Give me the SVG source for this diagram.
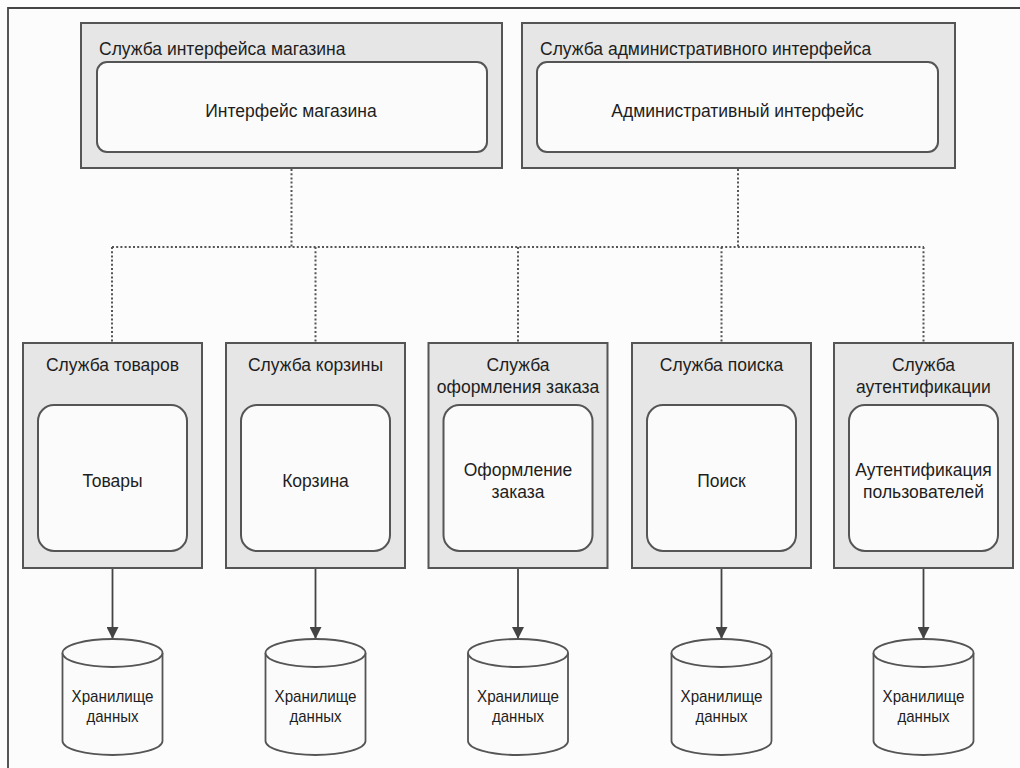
<svg xmlns="http://www.w3.org/2000/svg" width="1020" height="768" viewBox="0 0 1020 768">
<defs>
<style>
.svc{fill:#e6e6e6;stroke:#555;stroke-width:2}
.inner{fill:#fbfbfb;stroke:#555;stroke-width:2}
.t{font-family:"Liberation Sans",Arial,sans-serif;font-size:17.5px;fill:#1e1e1e}
.c{text-anchor:middle}
.ds{font-family:"Liberation Sans",Arial,sans-serif;font-size:17px;fill:#1e1e1e;text-anchor:middle}
.dot{fill:none;stroke:#555;stroke-width:2;stroke-dasharray:2 2.2}
.arr{fill:none;stroke:#444;stroke-width:1.8}
.cyl{fill:#fbfbfb;stroke:#555;stroke-width:1.8}
</style>
<marker id="ah" markerWidth="14" markerHeight="12" refX="13" refY="6.5" orient="auto" markerUnits="userSpaceOnUse" viewBox="0 0 14 13">
<path d="M0 0 L13 6.5 L0 13 Z" fill="#444"/>
</marker>
</defs>
<rect x="0" y="0" width="1020" height="768" fill="#fcfcfc"/>
<path d="M8 768 V8 H1020" fill="none" stroke="#444" stroke-width="1.8"/>

<g id="connectors">
<path class="dot" d="M291.5 169 V247 M738 169 V247 M112 247 H924 M112 247 V343 M315.5 247 V343 M518 247 V343 M721.5 247 V343 M923.5 247 V343"/>
<path class="arr" marker-end="url(#ah)" d="M112.5 569 V639"/>
<path class="arr" marker-end="url(#ah)" d="M315.5 569 V639"/>
<path class="arr" marker-end="url(#ah)" d="M518 569 V639"/>
<path class="arr" marker-end="url(#ah)" d="M721.5 569 V639"/>
<path class="arr" marker-end="url(#ah)" d="M923.5 569 V639"/>
</g>

<g id="storefront-service">
<rect class="svc" x="81" y="23" width="421" height="145"/>
<text class="t" x="99" y="55">Служба интерфейса магазина</text>
<rect class="inner" x="97" y="62" width="390" height="90" rx="10"/>
<text class="t c" x="291" y="117">Интерфейс магазина</text>
</g>

<g id="admin-service">
<rect class="svc" x="522" y="23" width="433" height="145"/>
<text class="t" x="540" y="55">Служба административного интерфейса</text>
<rect class="inner" x="537" y="62" width="401" height="90" rx="10"/>
<text class="t c" x="737.5" y="117">Административный интерфейс</text>
</g>

<g id="products-service">
<rect class="svc" x="23" y="343" width="179" height="225"/>
<text class="t c" x="112.5" y="371">Служба товаров</text>
<rect class="inner" x="38" y="405" width="149" height="146" rx="16"/>
<text class="t c" x="112.5" y="487">Товары</text>
</g>

<g id="cart-service">
<rect class="svc" x="226" y="343" width="179" height="225"/>
<text class="t c" x="315.5" y="371">Служба корзины</text>
<rect class="inner" x="241" y="405" width="149" height="146" rx="16"/>
<text class="t c" x="315.5" y="487">Корзина</text>
</g>

<g id="checkout-service">
<rect class="svc" x="428.5" y="343" width="179" height="225"/>
<text class="t c" x="518" y="371">Служба</text>
<text class="t c" x="518" y="393">оформления заказа</text>
<rect class="inner" x="443.5" y="405" width="149" height="146" rx="16"/>
<text class="t c" x="518" y="476">Оформление</text>
<text class="t c" x="518" y="498">заказа</text>
</g>

<g id="search-service">
<rect class="svc" x="632" y="343" width="179" height="225"/>
<text class="t c" x="721.5" y="371">Служба поиска</text>
<rect class="inner" x="647" y="405" width="149" height="146" rx="16"/>
<text class="t c" x="721.5" y="487">Поиск</text>
</g>

<g id="auth-service">
<rect class="svc" x="834" y="343" width="179" height="225"/>
<text class="t c" x="923.5" y="371">Служба</text>
<text class="t c" x="923.5" y="393">аутентификации</text>
<rect class="inner" x="849" y="405" width="149" height="146" rx="16"/>
<text class="t c" x="923.5" y="476">Аутентификация</text>
<text class="t c" x="923.5" y="498">пользователей</text>
</g>

<g id="store-1">
<path class="cyl" d="M62.5 653 V741 A50 14 0 0 0 162.5 741 V653"/>
<ellipse class="cyl" cx="112.5" cy="653" rx="50" ry="14"/>
<text class="ds" x="112.5" y="702" textLength="82" lengthAdjust="spacingAndGlyphs">Хранилище</text>
<text class="ds" x="112.5" y="722" textLength="52" lengthAdjust="spacingAndGlyphs">данных</text>
</g>
<g id="store-2">
<path class="cyl" d="M265.5 653 V741 A50 14 0 0 0 365.5 741 V653"/>
<ellipse class="cyl" cx="315.5" cy="653" rx="50" ry="14"/>
<text class="ds" x="315.5" y="702" textLength="82" lengthAdjust="spacingAndGlyphs">Хранилище</text>
<text class="ds" x="315.5" y="722" textLength="52" lengthAdjust="spacingAndGlyphs">данных</text>
</g>
<g id="store-3">
<path class="cyl" d="M468 653 V741 A50 14 0 0 0 568 741 V653"/>
<ellipse class="cyl" cx="518" cy="653" rx="50" ry="14"/>
<text class="ds" x="518" y="702" textLength="82" lengthAdjust="spacingAndGlyphs">Хранилище</text>
<text class="ds" x="518" y="722" textLength="52" lengthAdjust="spacingAndGlyphs">данных</text>
</g>
<g id="store-4">
<path class="cyl" d="M671.5 653 V741 A50 14 0 0 0 771.5 741 V653"/>
<ellipse class="cyl" cx="721.5" cy="653" rx="50" ry="14"/>
<text class="ds" x="721.5" y="702" textLength="82" lengthAdjust="spacingAndGlyphs">Хранилище</text>
<text class="ds" x="721.5" y="722" textLength="52" lengthAdjust="spacingAndGlyphs">данных</text>
</g>
<g id="store-5">
<path class="cyl" d="M873.5 653 V741 A50 14 0 0 0 973.5 741 V653"/>
<ellipse class="cyl" cx="923.5" cy="653" rx="50" ry="14"/>
<text class="ds" x="923.5" y="702" textLength="82" lengthAdjust="spacingAndGlyphs">Хранилище</text>
<text class="ds" x="923.5" y="722" textLength="52" lengthAdjust="spacingAndGlyphs">данных</text>
</g>
</svg>
